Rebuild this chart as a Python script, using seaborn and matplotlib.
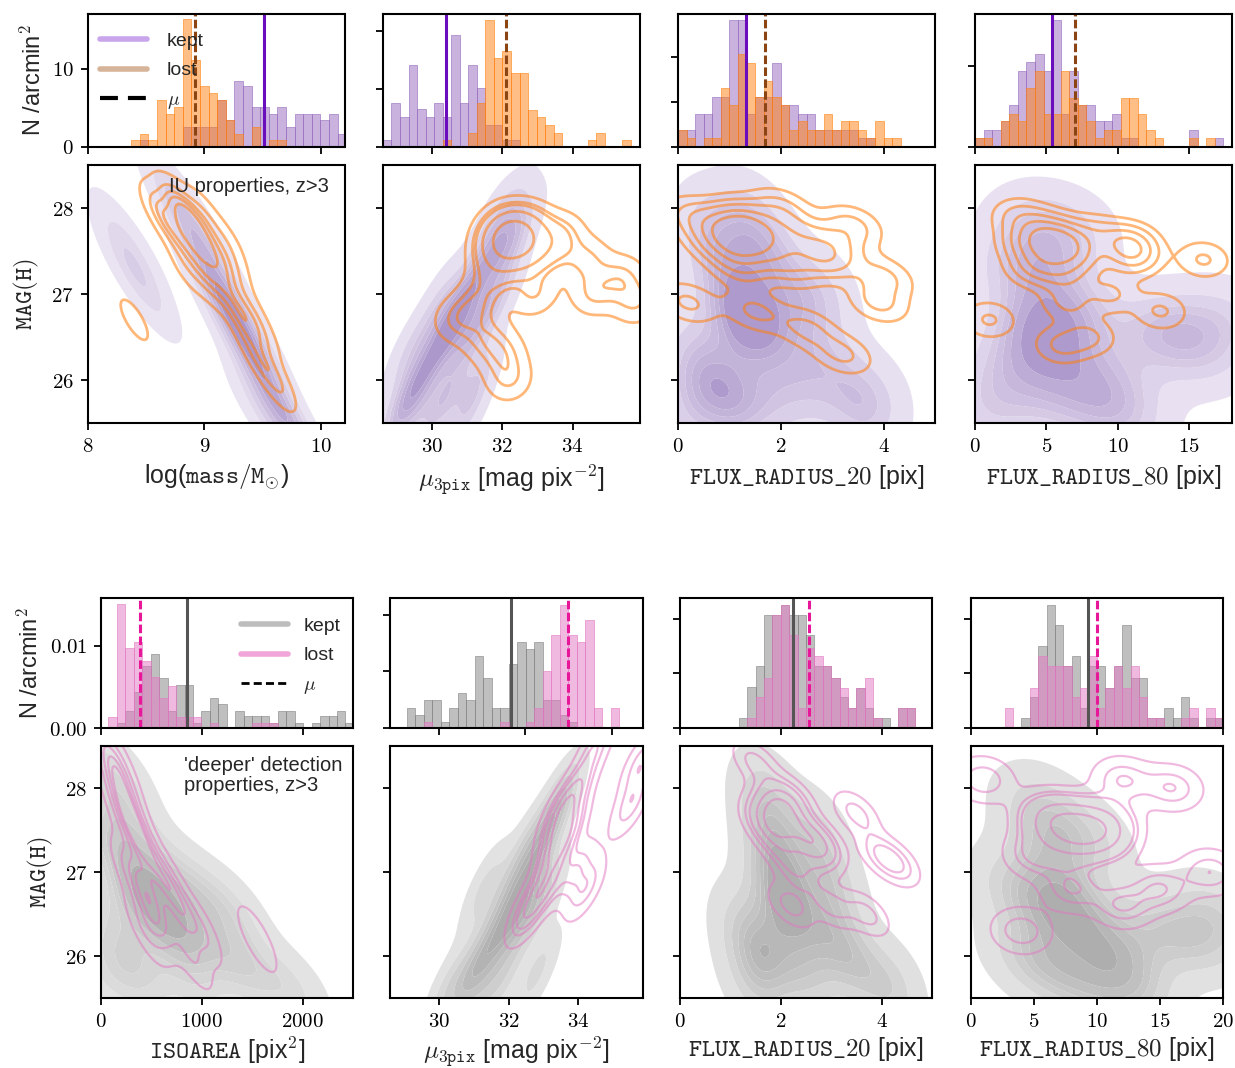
import numpy as np
import pandas as pd
import matplotlib
matplotlib.use("Agg")
import matplotlib.pyplot as plt
import seaborn as sns
from matplotlib.lines import Line2D
from matplotlib.colors import LinearSegmentedColormap
from matplotlib.ticker import FuncFormatter, FixedLocator

sns.set_style("ticks")
plt.rcParams['font.family'] = ['Liberation Sans', 'DejaVu Sans']
plt.rcParams['mathtext.fontset'] = 'cm'
plt.rcParams['axes.linewidth'] = 1.5
plt.rcParams['axes.edgecolor'] = 'black'
plt.rcParams['xtick.color'] = 'black'
plt.rcParams['ytick.color'] = 'black'

# ---------------- histogram data (N / arcmin^2 per bin) ----------------
# top block: IU properties (kept / lost)
top_mass_kept = [0, 0.86, 0, 0, 0, 0, 2.6, 2.6, 2.6, 2.6, 5.95, 3.45, 8.5, 7.76, 5.1, 5.1, 4.2, 5.1, 2.6, 4.2, 4.2, 4.2, 3.4, 4.2, 1.6]
top_mass_lost = [0.86, 1.72, 0.86, 5.95, 4.2, 5.1, 16.3, 11.1, 7.76, 6.9, 5.95, 3.45, 1.72, 0, 2.6, 0, 0.86, 0.86, 0, 0, 0, 0, 0, 0, 0]
top_mu_kept = [0.64, 3.8, 2.54, 7.1, 3.24, 2.54, 3.8, 2.54, 9.65, 3.8, 7.1, 5.1, 1.9, 1.9, 0.64, 0.64,
               0, 0, 0, 0, 0, 0, 0, 0, 0, 0, 0, 0, 0, 0]
top_mu_lost = [0, 0, 0, 0, 0, 0, 0, 0.64, 0, 0, 1.2, 3.8, 10.9, 7.7, 8.3, 6.4, 6.4, 3.2, 2.54, 1.9,
               1.2, 0, 0, 0, 0.64, 1.2, 0, 0, 0.64, 0]
top_fr20_kept = [1.85, 1.85, 3.7, 3.7, 5.6, 5.6, 14.1, 14.1, 3.7, 5.6, 5.6, 9.4, 4.7, 4.7, 3.7, 3.7, 1.85,
                 1.85, 1.85, 1.85, 1.85, 1.0, 1.0, 0, 0, 0, 0, 0, 0, 0]
top_fr20_lost = [1.85, 1.0, 0, 1.0, 1.0, 6.6, 4.7, 10.4, 9.4, 5.6, 7.4, 5.6, 4.7, 1.85, 2.9, 1.85, 1.85,
                 3.7, 1.85, 2.9, 2.9, 1.85, 1.0, 2.9, 1.0, 1.0, 0, 0, 0, 0]
top_fr80_kept = [1.15, 2.05, 2.05, 3.2, 5.2, 9.4, 10.5, 11.5, 9.4, 15.6, 4.1, 9.4, 5.2, 5.2, 3.2, 3.2, 4.1,
                 1.15, 1.15, 0, 0, 0, 0, 0, 0, 2.05, 0, 0, 1.15, 0]
top_fr80_lost = [1.15, 1.15, 0, 3.2, 4.1, 3.2, 7.3, 9.4, 4.1, 4.1, 9.4, 6.1, 5.2, 3.2, 1.15, 2.05, 2.05,
                 6.1, 6.1, 4.1, 2.05, 1.15, 0, 0, 0, 1.15, 0, 1.15, 0, 0]
top_mean_kept = [9.513, 30.39, 1.33, 5.42]
top_mean_lost = [8.917, 32.12, 1.70, 6.99]

# bottom block: 'deeper' detection properties
bot_area_kept = [0, 0.00065, 0.0021, 0.0044, 0.0075, 0.009, 0.0061, 0.0021, 0.0052, 0.0052, 0.00065, 0.0021,
                 0.0037, 0.0029, 0, 0.0021, 0.0014, 0.0014, 0.0014, 0.00065, 0.0021, 0.0021, 0.00065, 0,
                 0.00065, 0.0014, 0.0014, 0.0021, 0.00065]
bot_area_lost = [0.00139, 0.0151, 0.0097, 0.01045, 0.0082, 0.0062, 0.0037, 0.0051, 0.00139, 0.00139, 0.00139,
                 0, 0.00065, 0, 0, 0, 0, 0.00065, 0.00065, 0.00065, 0, 0, 0, 0, 0, 0, 0, 0, 0]
bot_mu_kept = [0.00176, 0.00118, 0.00247, 0.00247, 0.00053, 0.00176, 0.00312, 0.00247, 0.00635, 0.00441,
               0.00176, 0.00176, 0.00565, 0.00759, 0.007, 0.00759, 0.00247, 0.00247, 0.00118, 0.00053,
               0, 0, 0, 0, 0]
bot_mu_lost = [0, 0, 0.00053, 0, 0, 0, 0, 0, 0, 0, 0, 0.00053, 0, 0, 0.00053, 0.00176, 0.00506, 0.00824,
               0.01088, 0.00824, 0.00759, 0.00953, 0.00176, 0, 0.00176]
bot_fr20_kept = [0, 0, 0, 0, 0, 0, 0, 0.00091, 0.00373, 0.00567, 0.0103, 0.0103, 0.0113, 0.0103, 0.0103,
                 0.0085, 0.00567, 0.00567, 0.0046, 0.0028, 0.0018, 0.0037, 0.0018, 0.00091, 0.00091, 0,
                 0.0018, 0.0018, 0, 0]
bot_fr20_lost = [0, 0, 0, 0, 0, 0, 0, 0, 0.0009, 0.0028, 0.0046, 0.0103, 0.0113, 0.0085, 0.0018, 0.0073,
                 0.0066, 0.0057, 0.0046, 0.0037, 0.0018, 0.0037, 0.0046, 0.0009, 0, 0, 0.0018, 0.0018, 0, 0]
bot_fr80_kept = [0, 0, 0, 0, 0, 0, 0.0009, 0.0028, 0.0075, 0.0113, 0.0094, 0.0057, 0.0066, 0.0018, 0.0057,
                 0.0057, 0.0037, 0.0057, 0.0094, 0.0046, 0.0046, 0.0009, 0.0009, 0.0018, 0.0009, 0.0028,
                 0.0009, 0, 0.0009, 0.0009]
bot_fr80_lost = [0, 0, 0, 0, 0.0018, 0, 0, 0.0037, 0.0066, 0.0057, 0.0057, 0.0057, 0.0028, 0.0037, 0.0066,
                 0.0018, 0.0037, 0.0057, 0.0037, 0.0057, 0.0028, 0.0009, 0.0009, 0, 0, 0.0009, 0.0018, 0,
                 0.0018, 0.0009]
bot_mean_kept = [853, 31.68, 2.24, 9.28]
bot_mean_lost = [387, 33.0, 2.55, 10.0]

# ---------------- KDE sample points (x, MAG(H)) ----------------
top_mass_kept_x = [8.35, 8.4, 8.45, 8.75, 8.85, 8.95, 9.0, 9.05, 9.1, 9.15, 9.2, 9.25, 9.3, 9.3, 9.35, 9.4, 9.45, 9.5, 9.55, 9.6, 9.7, 9.75, 9.85, 9.5]
top_mass_kept_y = [27.6, 27.3, 27.1, 28.1, 27.9, 27.7, 27.5, 27.3, 27.1, 27.0, 26.9, 26.7, 26.6, 26.5, 26.6, 26.4, 26.2, 26.0, 25.9, 25.7, 25.5, 25.4, 25.3, 25.6]
top_mass_lost_x = [8.6, 8.7, 8.8, 8.9, 8.9, 8.95, 8.85, 8.95, 9.05, 9.1, 8.85, 9.0, 9.15, 9.05, 9.2, 9.3, 9.35, 9.45, 9.55, 9.65, 8.4,
                   8.65, 8.75, 9.2, 9.25, 8.8, 9.0, 9.4, 9.5]
top_mass_lost_y = [28.0, 28.1, 28.05, 27.9, 27.8, 27.7, 27.6, 27.5, 27.6, 27.4, 27.3, 27.3, 27.25, 27.1, 27.0, 26.8, 26.6, 26.3, 26.1, 25.9, 26.7,
                   27.9, 27.7, 27.6, 27.3, 27.9, 27.95, 26.8, 26.5]

top_mu_kept_x = [29.0, 29.5, 29.5, 30.0, 30.5, 31.0, 31.3, 29.8, 30.3, 30.6, 30.6, 31.0, 31.4, 31.0, 31.5, 32.0, 32.0, 32.5, 32.2, 31.7, 30.2, 29.3]
top_mu_kept_y = [25.6, 25.7, 25.9, 25.6, 25.8, 25.6, 26.0, 26.2, 26.4, 26.6, 26.8, 26.5, 26.7, 27.0, 27.3, 27.0, 27.5, 27.7, 27.9, 27.8, 26.9, 26.3]
top_mu_lost_x = [32.0, 32.3, 32.5, 32.2, 31.8, 32.6, 31.7, 31.3, 30.7, 31.5, 32.0, 32.2, 33.3, 33.7, 34.4, 34.6, 35.4, 35.8, 32.9, 32.8,
                 32.1, 32.4, 31.9, 32.7]
top_mu_lost_y = [27.7, 27.75, 27.7, 27.5, 27.5, 27.4, 27.2, 26.9, 26.7, 26.5, 26.3, 26.0, 27.5, 27.7, 27.4, 27.0, 27.2, 26.9, 27.0, 27.8,
                 27.8, 27.6, 27.6, 27.6]

top_fr20_kept_x = [0.3, 0.6, 0.9, 1.2, 1.2, 1.3, 1.5, 1.0, 0.8, 0.6, 1.3, 1.8, 2.0, 2.3, 2.5, 1.8, 3.0, 3.5, 2.8, 1.6, 0.2, 3.8]
top_fr20_kept_y = [26.3, 26.0, 25.8, 25.7, 26.6, 26.8, 26.6, 27.0, 27.4, 27.8, 27.9, 27.3, 26.5, 26.9, 25.9, 25.8, 26.2, 25.6, 27.0, 27.6, 25.6, 25.8]
top_fr20_lost_x = [1.0, 1.2, 1.4, 1.1, 1.7, 2.0, 2.2, 2.8, 2.9, 3.1, 0.3, 0.2, 1.5, 2.5, 3.2, 4.0, 3.9, 2.0,
                   0.9, 1.3, 1.6, 1.2, 0.7, 2.4, 3.4]
top_fr20_lost_y = [27.8, 27.8, 27.6, 27.5, 27.8, 27.6, 27.3, 27.45, 27.4, 27.6, 27.9, 26.9, 26.8, 26.6, 26.3, 27.2, 26.9, 28.0,
                   27.7, 27.9, 27.5, 27.3, 27.6, 27.7, 27.8]

top_fr80_kept_x = [2.0, 3.5, 4.5, 5.0, 5.5, 5.8, 6.0, 5.0, 4.0, 6.5, 8.5, 9.5, 7.5, 3.0, 12.5, 14.0, 16.0, 17.5, 1.0, 10.5]
top_fr80_kept_y = [26.0, 26.3, 26.8, 26.6, 26.5, 26.2, 25.7, 27.3, 27.8, 27.7, 26.0, 25.8, 26.8, 27.3, 26.5, 26.6, 26.3, 26.7, 25.6, 25.5]
top_fr80_lost_x = [4.0, 5.0, 6.0, 7.0, 5.5, 4.5, 6.5, 10.5, 11.2, 11.0, 8.5, 1.0, 6.0, 8.0, 13.0, 16.0, 3.0, 9.5,
                   4.5, 5.5, 6.5, 7.5, 4.0, 6.0, 10.8, 3.5, 6.5]
top_fr80_lost_y = [27.6, 27.7, 27.6, 27.5, 27.3, 27.4, 27.2, 27.6, 27.5, 27.4, 27.7, 26.7, 26.4, 26.5, 26.8, 27.4, 27.9, 27.0,
                   27.8, 27.6, 27.7, 27.4, 27.3, 27.5, 27.6, 27.6, 26.9]

bot_area_kept_x = [100, 200, 300, 400, 500, 600, 700, 800, 350, 150, 100, 400, 900, 1200, 1500, 1900, 1000, 700, 50, 1300]
bot_area_kept_y = [28.2, 27.8, 27.3, 26.9, 26.7, 26.5, 26.4, 26.3, 26.6, 26.3, 25.8, 25.8, 25.7, 26.0, 25.8, 25.6, 26.7, 27.0, 27.4, 26.5]
bot_area_lost_x = [150, 200, 250, 280, 350, 400, 300, 450, 500, 550, 700, 800, 900, 1000, 1550, 120, 600, 450]
bot_area_lost_y = [28.2, 28.0, 27.8, 27.6, 27.5, 27.3, 27.0, 26.9, 26.6, 26.4, 26.8, 26.5, 26.0, 26.3, 26.2, 28.4, 27.0, 26.3]

bot_mu_kept_x = [30.2, 30.7, 31.2, 31.8, 31.0, 31.5, 32.0, 31.7, 32.3, 32.6, 32.2, 32.7, 33.0, 32.5, 33.1, 33.3, 33.5, 32.8, 31.3]
bot_mu_kept_y = [25.6, 25.6, 25.6, 25.7, 25.9, 26.1, 26.3, 26.5, 26.6, 26.5, 26.9, 27.0, 26.7, 27.3, 27.4, 27.7, 27.9, 25.8, 26.8]
bot_mu_lost_x = [33.4, 33.6, 33.5, 33.3, 33.7, 33.2, 32.5, 32.8, 34.0, 34.5, 35.5, 35.8, 33.9, 34.2]
bot_mu_lost_y = [27.6, 27.8, 27.4, 27.2, 27.5, 26.9, 26.5, 26.7, 28.0, 28.5, 27.8, 28.3, 27.0, 26.8]

bot_fr20_kept_x = [1.7, 1.8, 2.0, 1.9, 2.3, 1.8, 1.5, 2.5, 3.0, 3.5, 4.2, 2.7, 1.3, 3.0]
bot_fr20_kept_y = [27.9, 27.4, 27.0, 26.7, 26.5, 26.0, 25.7, 25.8, 26.2, 25.9, 25.6, 27.4, 26.3, 26.8]
bot_fr20_lost_x = [1.9, 2.0, 1.8, 2.2, 2.7, 2.8, 2.3, 1.5, 3.0, 2.2, 3.5, 4.0, 4.3, 3.7,
                   1.9, 2.1, 2.0, 2.6, 1.7, 2.4]
bot_fr20_lost_y = [27.8, 27.6, 27.5, 27.9, 27.4, 27.3, 27.0, 28.3, 26.6, 26.6, 27.7, 27.2, 27.1, 26.5,
                   27.7, 27.8, 27.3, 27.2, 27.6, 27.5]

bot_fr80_kept_x = [5.5, 6.0, 7.0, 6.5, 8.0, 7.0, 4.5, 10.0, 12.0, 15.0, 18.0, 13.0, 9.0, 3.5, 19.5, 10.0]
bot_fr80_kept_y = [27.8, 27.3, 26.8, 26.4, 26.6, 25.8, 26.0, 26.2, 26.0, 26.3, 26.2, 25.6, 27.4, 26.8, 26.5, 25.6]
bot_fr80_lost_x = [7.0, 9.0, 10.0, 6.0, 8.0, 11.0, 5.0, 12.0, 16.0, 1.0, 8.0, 12.0, 15.0, 19.0, 4.0,
                   7.5, 8.5, 9.5, 6.5, 10.5]
bot_fr80_lost_y = [27.6, 27.5, 27.45, 27.7, 27.3, 27.6, 27.2, 28.1, 28.0, 28.1, 26.8, 26.6, 26.8, 27.0, 26.3,
                   27.6, 27.5, 27.6, 27.5, 27.4]

# ---------------- figure ----------------
W, H = 1235, 1068
fig = plt.figure(figsize=(W / 100, H / 100), dpi=100)


def add_ax(x0, y0, w, h):
    return fig.add_axes([x0 / W, 1 - (y0 + h) / H, w / W, h / H])


top_cols = [87.5, 382.5, 678, 975]
bot_cols = [101, 390.5, 680, 971]
top_hist = [add_ax(c, 14, 257, 133) for c in top_cols]
top_kde = [add_ax(c, 165, 257, 258) for c in top_cols]
bot_hist = [add_ax(c, 598, 252, 130) for c in bot_cols]
bot_kde = [add_ax(c, 746, 252, 252) for c in bot_cols]

TICKFS = 15
LABFS = 18

top_style = dict(kept='tab:purple', lost='tab:orange', kept_mean='#6a0dbd', lost_mean='#8b4513',
                 line_alpha=0.55, lw=2.0,
                 cmap=LinearSegmentedColormap.from_list('pur', ['#efe9f5', '#a58fc6']))
bot_style = dict(kept='gray', lost='tab:pink', kept_mean='#555555', lost_mean='#e8179a',
                 line_alpha=0.5, lw=1.6,
                 cmap=LinearSegmentedColormap.from_list('gry', ['#e7e7e7', '#a9a9a9']))


def draw_hist(ax, edges, kept, lost, mk, ml, st):
    edges = np.asarray(edges, dtype=float)
    centers = 0.5 * (edges[:-1] + edges[1:])
    df = pd.DataFrame({'x': centers, 'kept': np.asarray(kept, float), 'lost': np.asarray(lost, float)})
    sns.histplot(data=df, x='x', weights='kept', bins=edges.tolist(), color=st['kept'], alpha=0.5,
                 edgecolor=st['kept'], linewidth=0.4, ax=ax)
    sns.histplot(data=df, x='x', weights='lost', bins=edges.tolist(), color=st['lost'], alpha=0.5,
                 edgecolor=st['lost'], linewidth=0.4, ax=ax)
    ax.axvline(mk, color=st['kept_mean'], lw=2.2)
    ax.axvline(ml, color=st['lost_mean'], lw=2.2, ls=(0, (2.8, 1.1)))
    ax.set_xlabel('')
    ax.set_ylabel('')


def draw_kde(ax, kx, ky, lx, ly, st):
    sns.kdeplot(x=np.asarray(kx, float), y=np.asarray(ky, float), fill=True, cmap=st['cmap'],
                levels=8, thresh=0.04, bw_adjust=0.8, antialiased=True, ax=ax)
    sns.kdeplot(x=np.asarray(lx, float), y=np.asarray(ly, float), fill=False, color=st['lost'],
                alpha=st['line_alpha'], linewidths=st['lw'], levels=6, thresh=0.08, bw_adjust=0.62, ax=ax)
    ax.set_xlabel('')
    ax.set_ylabel('')


def style_ax(ax, xlim, ylim, xticks, yticks, xlab=True, ylab=True, yfmt='{:g}'):
    ax.set_xlim(*xlim)
    ax.set_ylim(*ylim)
    ax.xaxis.set_major_locator(FixedLocator(xticks))
    ax.yaxis.set_major_locator(FixedLocator(yticks))
    ax.xaxis.set_major_formatter(FuncFormatter(lambda v, p: '$' + '{:g}'.format(v) + '$'))
    ax.yaxis.set_major_formatter(FuncFormatter(lambda v, p: '$' + yfmt.format(v) + '$'))
    ax.tick_params(direction='out', length=5, width=1.3, labelsize=TICKFS, pad=5,
                   labelbottom=xlab, labelleft=ylab, top=False, right=False)
    for s in ax.spines.values():
        s.set_visible(True)
        s.set_linewidth(1.5)
        s.set_color('black')


# ---- top block ----
top_edges = [np.linspace(8.373, 8.373 + 25 * 0.0737, 26),
             np.linspace(28.613, 28.613 + 30 * 0.2425, 31),
             np.linspace(0, 5, 31),
             np.linspace(0, 18, 31)]
top_k = [top_mass_kept, top_mu_kept, top_fr20_kept, top_fr80_kept]
top_l = [top_mass_lost, top_mu_lost, top_fr20_lost, top_fr80_lost]
top_xlims = [(8, 10.2), (28.6, 35.9), (0, 5), (0, 18)]
top_xticks = [[8, 9, 10], [30, 32, 34], [0, 2, 4], [0, 5, 10, 15]]
top_hylims = [(0, 17), (0, 11.45), (0, 14.8), (0, 16.4)]
top_hyticks = [[0, 10], [0, 5, 10], [0, 5, 10], [0, 10]]
top_kde_data = [(top_mass_kept_x, top_mass_kept_y, top_mass_lost_x, top_mass_lost_y),
                (top_mu_kept_x, top_mu_kept_y, top_mu_lost_x, top_mu_lost_y),
                (top_fr20_kept_x, top_fr20_kept_y, top_fr20_lost_x, top_fr20_lost_y),
                (top_fr80_kept_x, top_fr80_kept_y, top_fr80_lost_x, top_fr80_lost_y)]
top_xlabels = [r'log($\mathtt{mass/M}_{\odot}$)',
               r'$\mu_{\mathtt{3pix}}$ [mag pix$^{-2}$]',
               r'$\mathtt{FLUX\_RADIUS\_20}$ [pix]',
               r'$\mathtt{FLUX\_RADIUS\_80}$ [pix]']

for i in range(4):
    draw_hist(top_hist[i], top_edges[i], top_k[i], top_l[i], top_mean_kept[i], top_mean_lost[i], top_style)
    style_ax(top_hist[i], top_xlims[i], top_hylims[i], top_xticks[i], top_hyticks[i],
             xlab=False, ylab=(i == 0))
    draw_kde(top_kde[i], *top_kde_data[i], top_style)
    style_ax(top_kde[i], top_xlims[i], (25.5, 28.5), top_xticks[i], [26, 27, 28], xlab=True, ylab=(i == 0))
    top_kde[i].set_xlabel(top_xlabels[i], fontsize=LABFS, labelpad=5)

top_hist[0].set_ylabel(r'N /arcmin$^2$', fontsize=17, labelpad=4)
top_kde[0].set_ylabel(r'$\mathtt{MAG(H)}$', fontsize=LABFS, labelpad=7)
top_kde[0].text(0.94, 0.955, 'IU properties, z>3', transform=top_kde[0].transAxes,
                ha='right', va='top', fontsize=14.5)
h_top = [Line2D([], [], color='#c9a6ec', lw=4),
         Line2D([], [], color='#d6b49a', lw=4),
         Line2D([], [], color='black', lw=3, ls=(0, (4.3, 2.4)))]
top_hist[0].legend(h_top, ['kept', 'lost', r'$\mu$'], loc='upper left', frameon=False,
                   fontsize=14, handlelength=2.4, handletextpad=1.0, labelspacing=0.6,
                   borderaxespad=0.0, bbox_to_anchor=(0.02, 0.92))

# ---- bottom block ----
bot_edges = [np.linspace(73, 73 + 29 * 84, 30),
             np.linspace(29.27, 29.27 + 25 * 0.196, 26),
             np.linspace(0, 5, 31),
             np.linspace(0, 20, 31)]
bot_k = [bot_area_kept, bot_mu_kept, bot_fr20_kept, bot_fr80_kept]
bot_l = [bot_area_lost, bot_mu_lost, bot_fr20_lost, bot_fr80_lost]
bot_hxlims = [(0, 2500), (28.89, 34.71), (0, 5), (0, 20)]
bot_hxticks = [[0, 1000, 2000], [30, 32, 34], [0, 2, 4], [0, 10, 20]]
bot_kxlims = [(0, 2500), (28.6, 35.85), (0, 5), (0, 20)]
bot_kxticks = [[0, 1000, 2000], [30, 32, 34], [0, 2, 4], [0, 5, 10, 15, 20]]
bot_hylims = [(0, 0.0158), (0, 0.01148), (0, 0.0119), (0, 0.0119)]
bot_hyticks = [[0, 0.01], [0, 0.005, 0.01], [0, 0.005, 0.01], [0, 0.005, 0.01]]
bot_kde_data = [(bot_area_kept_x, bot_area_kept_y, bot_area_lost_x, bot_area_lost_y),
                (bot_mu_kept_x, bot_mu_kept_y, bot_mu_lost_x, bot_mu_lost_y),
                (bot_fr20_kept_x, bot_fr20_kept_y, bot_fr20_lost_x, bot_fr20_lost_y),
                (bot_fr80_kept_x, bot_fr80_kept_y, bot_fr80_lost_x, bot_fr80_lost_y)]
bot_xlabels = [r'$\mathtt{ISOAREA}$ [pix$^2$]',
               r'$\mu_{\mathtt{3pix}}$ [mag pix$^{-2}$]',
               r'$\mathtt{FLUX\_RADIUS\_20}$ [pix]',
               r'$\mathtt{FLUX\_RADIUS\_80}$ [pix]']

for i in range(4):
    draw_hist(bot_hist[i], bot_edges[i], bot_k[i], bot_l[i], bot_mean_kept[i], bot_mean_lost[i], bot_style)
    style_ax(bot_hist[i], bot_hxlims[i], bot_hylims[i], bot_hxticks[i], bot_hyticks[i],
             xlab=False, ylab=(i == 0), yfmt='{:.2f}')
    draw_kde(bot_kde[i], *bot_kde_data[i], bot_style)
    style_ax(bot_kde[i], bot_kxlims[i], (25.5, 28.5), bot_kxticks[i], [26, 27, 28], xlab=True, ylab=(i == 0))
    bot_kde[i].set_xlabel(bot_xlabels[i], fontsize=LABFS, labelpad=3)

bot_hist[0].set_ylabel(r'N /arcmin$^2$', fontsize=17, labelpad=4)
bot_kde[0].set_ylabel(r'$\mathtt{MAG(H)}$', fontsize=LABFS, labelpad=7)
bot_kde[0].text(0.33, 0.96, "'deeper' detection\nproperties, z>3", transform=bot_kde[0].transAxes,
                ha='left', va='top', fontsize=14.5, linespacing=1.05)
h_bot = [Line2D([], [], color='#bdbdbd', lw=4),
         Line2D([], [], color='#f0a6d8', lw=4),
         Line2D([], [], color='black', lw=2, ls=(0, (2.9, 1.5)))]
bot_hist[0].legend(h_bot, ['kept', 'lost', r'$\mu$'], loc='upper right', frameon=False,
                   fontsize=14, handlelength=2.4, handletextpad=0.8, labelspacing=0.6,
                   borderaxespad=0.0, bbox_to_anchor=(0.98, 0.91))

fig.savefig('out.png', dpi=100)
